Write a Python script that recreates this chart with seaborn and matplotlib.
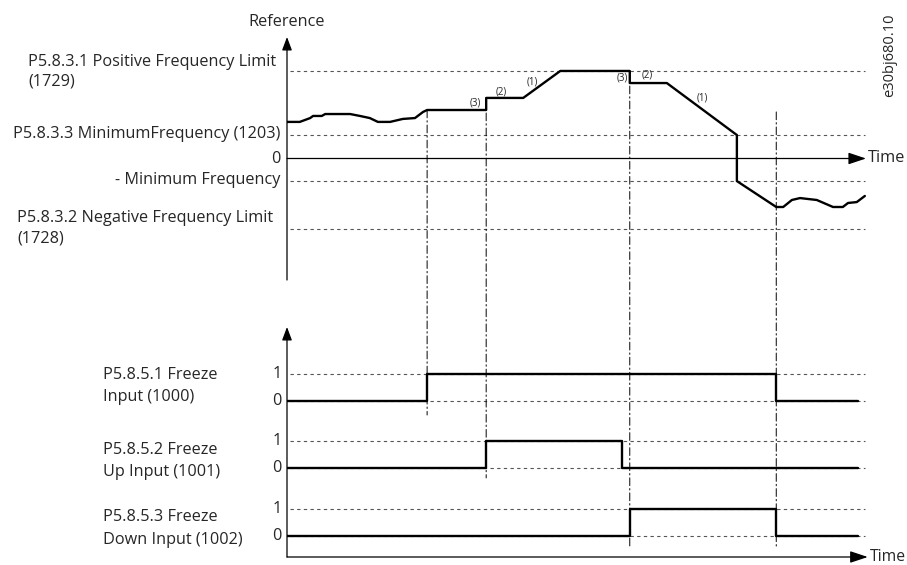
import numpy as np
import pandas as pd
import matplotlib
matplotlib.use("Agg")
import matplotlib.pyplot as plt
import seaborn as sns
from matplotlib.patches import ConnectionPatch

# ---------------- data ----------------
# reference signal (time units 0..100, reference in arbitrary frequency units)
ref_time = [0, 2.2, 4.0, 4.5, 6.0, 6.6, 10.9, 12.6, 14.3, 15.7, 17.8, 20.0, 22.1, 23.5, 24.2,
            34.4, 34.4, 40.8, 47.2, 59.2, 59.2, 65.6, 77.7, 77.7, 84.5, 85.7, 87.2, 88.6, 91.5,
            94.3, 96.0, 96.9, 98.4, 99.8]
ref_value = [20.9, 20.9, 23.1, 24.3, 24.3, 25.4, 25.4, 24.3, 23.1, 20.9, 20.9, 22.6, 23.1, 26.6, 27.7,
             27.7, 34.6, 34.6, 50.0, 50.0, 43.1, 43.1, 13.4, -12.9, -27.7, -27.7, -23.7, -22.6, -23.7,
             -27.7, -27.7, -25.4, -24.9, -21.4]

level_values = [50.0, 13.4, -12.9, -40.3]   # pos limit, min freq, -min freq, neg limit

# digital inputs (step-post)
freeze_time = [0, 24.2, 84.5, 98.6]
freeze_state = [0, 1, 0, 0]
up_time = [0, 34.4, 57.9, 98.6]
up_state = [0, 1, 0, 0]
down_time = [0, 59.2, 84.5, 98.6]
down_state = [0, 1, 0, 0]

event_times = [24.2, 34.4, 59.2, 84.5]
event_top = [27.7, 34.6, 50.0, 26.6]        # start on reference panel
event_bottom = [-0.52, -2.85, -5.41, -5.41]  # end on input panel

ann_labels = ["(3)", "(2)", "(1)", "(3)", "(2)", "(1)"]
ann_time = [32.6, 37.0, 42.3, 57.9, 62.3, 71.7]
ann_value = [31.7, 38.0, 43.7, 45.8, 47.8, 34.6]

# ---------------- style ----------------
sns.set_theme(style="white")
plt.rcParams['font.family'] = ['Open Sans', 'DejaVu Sans']
FS = 11.7
W, H = 907, 565
DOT = dict(color="#555555", lw=0.8, linestyle=(0, (3, 3)))
DASHDOT = (0, (8, 3, 1.5, 3))

fig = plt.figure(figsize=(W / 100, H / 100), dpi=100)
fig.patch.set_facecolor("white")

def fig_box(left, top, right, bottom):
    return [left / W, 1 - bottom / H, (right - left) / W, (bottom - top) / H]

ax1 = fig.add_axes(fig_box(287, 37, 866, 280))
ax2 = fig.add_axes(fig_box(287, 327, 866, 557))
for a in (ax1, ax2):
    a.set_axis_off()

def arrow(ax, xy_from, xy_to, hl, hw):
    ax.annotate("", xy=xy_to, xytext=xy_from, xycoords="data", textcoords="data",
                arrowprops=dict(arrowstyle=f"-|>,head_length={hl},head_width={hw}",
                                color="black", lw=0.9, shrinkA=0, shrinkB=0,
                                mutation_scale=10), annotation_clip=False)

# ---- upper panel ----
for v in level_values:
    ax1.plot([0.5, 99.8], [v, v], **DOT)
arrow(ax1, (0, -69.4), (0, 69.4), 0.8, 0.3)
arrow(ax1, (0, 0), (100, 0), 1.08, 0.36)
sns.lineplot(x=ref_time, y=ref_value, ax=ax1, color="black", lw=1.7,
             sort=False, estimator=None)
for s, t, v in zip(ann_labels, ann_time, ann_value):
    ax1.text(t, v, s, fontsize=7, ha="center", va="center")
ax1.text(0, 78, "Reference", fontsize=FS, ha="center", va="center", clip_on=False)
ax1.text(100.3, 0, "Time", fontsize=11.8, ha="left", va="center", clip_on=False)

# ---- lower panel ----
offsets = [0.0, -2.5, -5.0]
frames = []
for name, tt, ss, off in zip(["freeze", "up", "down"], [freeze_time, up_time, down_time],
                             [freeze_state, up_state, down_state], offsets):
    frames.append(pd.DataFrame({"signal": name, "time": tt,
                                "level": np.array(ss, dtype=float) + off}))
    for lvl in (0, 1):
        ax2.plot([0.5, 99.8], [lvl + off, lvl + off], **DOT)
        ax2.text(-0.9, lvl + off, str(lvl), fontsize=FS, ha="right", va="center",
                 clip_on=False)
df = pd.concat(frames, ignore_index=True)
sns.lineplot(data=df, x="time", y="level", units="signal", estimator=None, sort=False,
             color="black", lw=1.7, drawstyle="steps-post", ax=ax2, legend=False)
arrow(ax2, (0, -5.78), (0, 2.74), 0.8, 0.3)
arrow(ax2, (0, -5.78), (100.3, -5.78), 1.08, 0.36)
ax2.text(100.6, -5.78, "Time", fontsize=11.3, ha="left", va="center", clip_on=False)
ax1.set_xlim(0, 100); ax1.set_ylim(-69.4, 69.4)
ax2.set_xlim(0, 100); ax2.set_ylim(-5.78, 2.74)

# ---- event lines spanning both panels ----
for t, vt, vb in zip(event_times, event_top, event_bottom):
    con = ConnectionPatch(xyA=(t, vt), coordsA=ax1.transData,
                          xyB=(t, vb), coordsB=ax2.transData,
                          color="black", lw=0.7, linestyle=DASHDOT)
    fig.add_artist(con)

# ---- labels ----
def px_text(x, y, s, ha="left", **kw):
    fig.text(x / W, 1 - y / H, s, ha=ha, va="center", fontsize=FS, **kw)

px_text(28, 62, "P5.8.3.1 Positive Frequency Limit")
px_text(28, 82, "(1729)")
px_text(280, 134, "P5.8.3.3 MinimumFrequency (1203)", ha="right")
px_text(280, 159, "0", ha="right")
px_text(280, 180, "- Minimum Frequency", ha="right")
px_text(17, 218, "P5.8.3.2 Negative Frequency Limit")
px_text(17, 238, "(1728)")

px_text(103, 375, "P5.8.5.1 Freeze")
px_text(103, 397, "Input (1000)")
px_text(103, 450, "P5.8.5.2 Freeze")
px_text(103, 472, "Up Input (1001)")
px_text(103, 517, "P5.8.5.3 Freeze")
px_text(103, 540, "Down Input (1002)")

fig.text(890 / W, 1 - 55 / H, "e30bj680.10", rotation=90, ha="center", va="center",
         fontsize=10.5)

fig.savefig("out.png", dpi=100, facecolor="white")
